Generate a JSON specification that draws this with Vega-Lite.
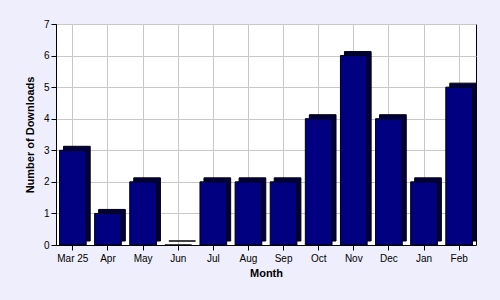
{
  "$schema": "https://vega.github.io/schema/vega-lite/v6.json",
  "autosize": "none",
  "width": 420,
  "height": 221,
  "padding": {"left": 56, "top": 24, "right": 24, "bottom": 55},
  "background": "#eeeefc",
  "config": {
    "view": {"fill": "white", "stroke": "black", "strokeWidth": 1},
    "font": "Liberation Sans",
    "axis": {"labelFont": "Liberation Sans", "titleFont": "Liberation Sans", "labelFontSize": 10, "titleFontSize": 11, "labelColor": "black", "titleColor": "black", "domainColor": "black", "tickColor": "black", "gridColor": "#c8c8c8", "labelFontWeight": "normal", "titleFontWeight": "bold"}
  },
  "data": {"values": [
    {"month": "Mar 25", "downloads": 3},
    {"month": "Apr", "downloads": 1},
    {"month": "May", "downloads": 2},
    {"month": "Jun", "downloads": 0},
    {"month": "Jul", "downloads": 2},
    {"month": "Aug", "downloads": 2},
    {"month": "Sep", "downloads": 2},
    {"month": "Oct", "downloads": 4},
    {"month": "Nov", "downloads": 6},
    {"month": "Dec", "downloads": 4},
    {"month": "Jan", "downloads": 2},
    {"month": "Feb", "downloads": 5}
  ]},
  "encoding": {
    "x": {"field": "month", "type": "nominal", "sort": null, "title": "Month",
      "scale": {"paddingInner": 0.24, "paddingOuter": 0.1},
      "axis": {"labelAngle": 0, "grid": true, "tickSize": 5, "labelPadding": 3, "titlePadding": 4}},
    "y": {"field": "downloads", "type": "quantitative", "title": "Number of Downloads",
      "scale": {"domain": [0, 7], "nice": false},
      "axis": {"values": [0,1,2,3,4,5,6,7], "tickSize": 5, "titlePadding": 8}}
  },
  "layer": [
    {"mark": {"type": "bar", "color": "#000040", "stroke": "black", "strokeWidth": 1, "xOffset": 4, "yOffset": -4}},
    {"mark": {"type": "bar", "color": "#000080", "stroke": "black", "strokeWidth": 1}}
  ]
}
